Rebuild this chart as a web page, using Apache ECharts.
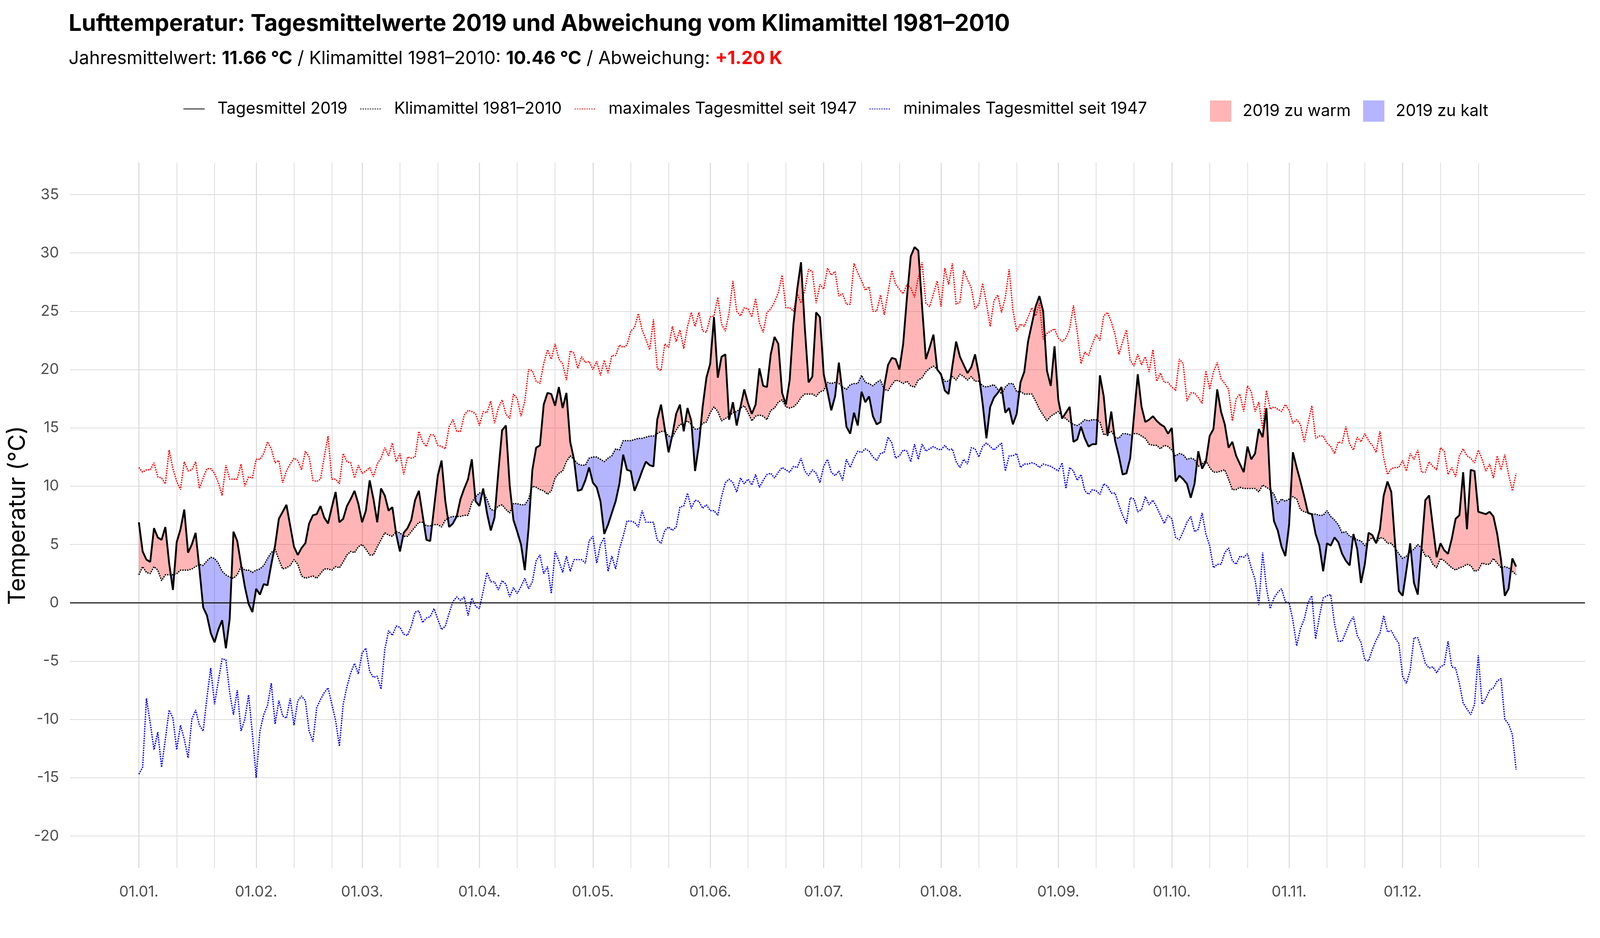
<!doctype html>
<html>
<head>
<meta charset="utf-8">
<title>Lufttemperatur 2019</title>
<script src="https://cdn.jsdelivr.net/npm/echarts@6/dist/echarts.min.js"></script>
<style>
  html, body { margin: 0; padding: 0; background: #fff; overflow: hidden; }
  #main { width: 100vw; height: 100vh; }
</style>
</head>
<body>
<div id="main"></div>
<script>
// Tagesmittel 2019 (°C), ein Wert pro Tag
var tagesmittel = [
  6.9,4.4,3.7,3.5,6.4,5.6,5.4,6.5,3.4,1.1,5.2,6.3,8.0,4.3,5.0,6.0,2.9,-0.4,-1.1,-2.6,-3.4,-2.3,-1.5,-3.9,-1.4,6.1,5.3,3.3,1.4,-0.1,-0.8,
  1.2,0.7,1.6,1.5,3.3,4.9,7.2,7.8,8.4,6.6,4.8,4.1,4.7,5.1,6.8,7.5,7.6,8.3,7.3,6.8,8.2,9.5,6.9,7.2,8.3,8.9,9.6,8.5,
  6.9,7.9,10.5,8.9,6.9,9.8,9.2,7.9,8.2,5.9,4.4,6.0,6.4,7.1,8.8,9.6,7.5,5.4,5.3,8.1,10.9,12.2,8.7,6.5,6.8,7.4,8.9,9.8,10.6,12.3,8.7,
  8.3,9.8,7.7,6.2,7.3,11.2,14.8,15.2,10.1,7.1,6.1,5.0,2.8,6.4,11.4,13.3,13.5,17.0,18.0,17.9,16.9,18.5,16.7,18.0,13.8,12.3,9.6,9.7,10.5,11.6,
  10.3,9.9,8.7,5.9,6.7,7.7,8.7,10.2,12.7,11.4,11.3,9.6,10.4,11.3,12.1,11.8,11.7,15.7,17.0,14.9,12.9,14.4,16.2,17.0,14.7,16.7,15.6,11.3,13.5,16.8,19.3,
  20.5,24.5,19.3,21.1,21.3,15.7,17.2,15.2,16.8,18.3,17.1,16.2,17.0,20.1,18.6,18.5,21.3,22.8,22.2,18.0,17.0,19.1,23.9,26.9,29.2,23.6,18.9,19.4,24.9,24.5,
  19.6,18.1,16.5,17.7,20.6,17.9,15.1,14.5,16.3,15.2,18.1,17.2,17.7,16.0,15.3,15.5,18.6,20.4,21.0,20.9,20.0,22.2,26.2,29.7,30.5,30.2,25.4,20.9,21.9,23.0,20.0,
  19.6,18.2,17.9,20.3,22.4,21.1,20.4,19.7,20.2,21.3,19.6,17.1,14.1,16.8,17.6,18.0,18.5,16.3,16.7,15.3,16.2,18.9,19.8,22.4,23.9,25.4,26.3,25.0,19.9,18.6,22.0,
  17.4,15.8,16.3,16.8,13.8,14.0,15.1,14.1,13.4,13.6,13.6,19.5,17.7,14.3,16.4,13.9,12.6,11.0,11.1,12.4,16.0,19.6,16.8,15.5,15.7,16.0,15.6,15.3,15.1,14.5,
  15.0,10.4,10.9,10.6,10.2,9.0,10.2,13.0,11.5,12.1,14.3,14.9,18.3,16.4,15.3,13.3,13.8,12.6,11.9,11.2,13.4,12.3,12.8,14.9,14.2,16.7,10.0,7.0,6.2,4.8,4.0,
  6.7,12.9,11.6,10.4,9.1,7.7,7.6,5.9,4.9,2.7,5.1,4.9,5.6,5.2,4.2,3.6,3.2,5.9,4.6,1.7,3.3,6.0,5.8,5.1,6.3,9.2,10.4,9.5,5.1,1.0,
  0.6,2.8,5.1,1.7,0.7,4.7,8.8,9.2,6.5,3.9,5.1,4.5,4.2,5.5,7.2,7.5,11.2,6.3,11.4,11.3,7.8,7.7,7.6,7.8,7.4,5.9,3.7,0.6,1.2,3.8,3.1
];

// Klimamittel 1981-2010 (°C)
var klimamittel = [
  2.4,3.1,2.6,2.5,3.1,2.8,1.9,2.4,2.4,2.4,2.5,2.8,2.8,2.8,2.9,3.1,3.3,3.2,3.6,3.9,3.8,3.4,2.7,2.4,2.2,2.1,2.4,3.1,2.8,2.8,2.6,
  2.8,2.9,3.2,3.8,4.3,4.6,3.7,2.9,3.0,3.2,3.7,3.3,2.3,2.1,2.2,2.3,2.1,2.5,2.9,2.9,2.8,3.1,3.0,3.5,4.1,4.4,4.3,4.8,
  5.0,4.6,4.1,4.1,4.8,5.4,6.0,5.8,5.7,6.1,6.0,5.7,5.7,6.1,6.5,6.9,6.9,6.6,6.6,6.7,6.7,6.5,7.1,7.3,7.4,7.4,7.4,7.5,7.5,8.6,9.1,
  9.4,9.5,8.9,8.0,7.9,8.3,8.4,8.0,7.7,8.5,8.5,8.4,8.4,8.9,10.0,9.9,9.7,9.6,9.3,9.6,10.7,11.1,11.3,12.1,12.6,12.3,11.9,11.8,11.8,12.4,
  12.5,12.5,12.3,12.1,12.4,12.6,13.2,13.1,13.9,13.9,13.9,14.0,14.1,14.1,14.2,14.3,14.3,14.5,14.7,14.7,14.3,14.2,14.8,15.3,15.3,15.6,15.3,14.9,14.9,15.4,15.5,
  16.3,16.8,16.4,15.6,15.8,16.0,16.3,16.4,16.7,16.9,16.3,15.6,16.0,16.1,16.0,15.7,16.5,16.7,17.2,17.4,16.8,16.7,16.8,17.1,17.6,17.9,17.9,17.9,17.7,18.1,
  18.2,18.9,18.8,18.9,18.8,18.5,18.3,18.7,18.8,18.8,19.5,18.9,18.8,18.6,18.9,19.1,18.3,18.2,18.7,19.1,19.0,18.8,19.0,18.6,18.5,19.1,19.3,19.8,20.1,20.3,20.0,
  19.5,19.0,19.0,19.4,19.1,19.6,19.4,19.1,19.4,19.0,19.0,18.6,18.5,18.6,18.7,18.3,17.9,18.5,18.8,18.8,18.1,18.1,17.9,17.9,17.9,17.3,16.6,16.1,15.6,16.0,16.2,
  16.4,16.0,15.8,15.5,15.3,15.2,15.4,15.7,15.6,15.7,15.7,15.5,14.4,14.5,14.7,14.2,14.1,14.5,14.5,14.4,14.5,14.5,14.3,14.1,13.6,13.5,13.5,13.2,13.5,13.4,
  13.1,12.6,12.8,12.7,12.3,12.4,12.3,11.7,11.9,12.2,11.6,11.2,11.2,11.3,11.4,10.6,9.7,9.7,9.9,9.8,9.8,9.8,9.8,9.5,10.1,9.9,9.7,9.3,8.5,8.9,8.7,
  8.9,9.1,8.9,8.0,7.8,7.7,7.6,7.6,7.5,7.5,7.9,7.4,7.1,6.7,6.0,6.1,5.7,5.6,5.4,5.3,4.9,5.3,5.6,5.1,5.6,5.5,5.1,5.1,4.7,4.2,
  3.8,4.0,4.4,4.6,5.0,4.7,4.0,4.0,3.3,3.0,3.8,3.6,3.3,3.0,2.8,3.0,3.1,3.3,3.2,2.7,2.8,3.4,3.3,3.3,3.8,3.4,3.0,3.1,3.0,2.7,2.4
];

// maximales Tagesmittel seit 1947 (°C)
var maxTagesmittel = [
  11.6,11.2,11.4,11.4,12.0,10.8,10.7,10.2,13.1,11.5,10.4,9.7,12.1,11.3,11.4,12.1,9.8,10.7,11.5,11.5,11.1,10.3,9.2,11.8,10.6,10.6,10.6,11.9,10.0,10.8,10.7,
  12.3,12.3,12.8,13.8,13.2,12.0,12.2,10.3,11.3,11.9,12.4,12.2,11.4,13.0,12.5,10.5,10.4,10.6,12.5,14.3,10.6,10.6,10.2,12.8,12.1,12.0,10.7,11.8,
  11.1,11.3,11.6,10.8,11.9,12.4,13.3,12.6,13.7,12.1,12.8,11.0,12.5,12.4,12.5,14.7,13.8,13.4,14.4,14.4,13.5,13.4,13.2,15.1,15.7,14.7,14.7,16.1,16.5,16.4,16.2,
  15.2,16.4,16.3,17.3,15.4,16.7,17.4,16.2,15.8,17.9,17.5,16.0,17.3,20.0,19.9,19.0,18.8,20.5,21.7,20.9,22.2,20.9,20.5,19.1,21.6,21.4,20.1,21.1,20.6,20.7,
  20.0,20.7,19.5,20.8,19.7,21.2,21.2,22.1,21.9,22.1,23.3,23.6,24.8,23.4,22.6,21.7,24.3,20.1,19.9,22.2,21.9,23.7,22.4,23.4,21.8,23.7,24.9,23.7,24.9,23.3,23.2,
  24.5,24.6,26.2,23.9,23.3,24.9,27.6,25.0,24.6,25.3,25.2,24.5,26.1,24.0,23.2,24.9,25.2,25.8,26.6,28.1,25.3,25.3,25.0,26.5,25.7,26.8,28.6,28.4,25.7,27.3,
  26.9,28.7,28.1,28.4,26.3,26.5,25.6,25.6,29.1,28.3,27.6,26.8,27.1,25.0,25.0,26.4,24.7,26.6,28.5,27.3,26.9,26.5,27.3,27.0,26.2,27.9,29.2,25.7,25.4,26.5,27.6,
  25.4,28.7,27.3,29.1,25.6,25.8,28.5,27.7,27.0,25.2,25.6,27.4,25.7,23.7,25.9,26.4,24.9,26.2,28.6,25.1,23.3,23.9,23.7,24.5,25.3,24.6,25.7,22.6,23.1,23.3,23.5,
  22.7,22.4,22.7,23.5,25.5,23.2,20.5,21.5,21.2,22.2,23.0,22.5,24.6,24.9,24.1,23.0,21.3,22.4,23.4,20.8,20.3,21.3,20.4,21.1,19.8,21.7,19.0,19.7,18.9,18.9,
  18.5,18.2,20.9,20.5,17.3,18.0,18.0,17.6,17.1,19.9,18.3,19.8,20.6,19.2,18.8,18.3,15.6,17.5,17.9,16.4,18.6,18.1,16.4,17.2,14.9,18.2,16.6,16.8,16.6,16.4,17.0,
  16.5,15.4,15.7,15.3,13.8,15.4,16.9,14.1,14.3,14.3,13.7,13.4,12.8,13.8,13.7,15.1,13.6,13.1,14.2,13.8,14.5,13.9,13.5,12.9,14.7,12.4,11.0,11.5,11.6,11.6,
  12.2,11.3,12.8,12.3,13.1,11.2,11.2,12.1,11.7,11.4,13.3,13.0,11.0,11.6,10.8,12.6,13.2,12.6,12.4,12.0,13.1,12.3,11.3,11.9,10.7,12.6,11.4,12.7,11.0,9.6,11.1
];

// minimales Tagesmittel seit 1947 (°C)
var minTagesmittel = [
  -14.7,-14.1,-8.2,-10.3,-12.6,-11.1,-14.1,-11.7,-9.2,-9.9,-12.6,-10.5,-11.7,-13.3,-10.0,-9.2,-10.5,-11.0,-8.1,-5.6,-8.7,-6.7,-4.8,-4.9,-7.7,-9.6,-7.5,-11.0,-10.0,-7.9,-11.2,
  -15.0,-11.0,-9.6,-8.8,-6.9,-10.4,-8.4,-9.7,-9.9,-8.2,-10.5,-8.4,-8.0,-8.4,-11.0,-11.9,-9.0,-8.3,-7.7,-7.3,-8.7,-10.1,-12.3,-8.7,-7.2,-6.0,-5.2,-6.1,
  -4.3,-3.9,-5.9,-6.4,-6.3,-7.4,-4.0,-2.4,-2.8,-2.0,-2.1,-2.7,-2.8,-2.0,-0.8,-0.7,-1.7,-1.3,-1.2,-0.5,-1.4,-2.3,-2.0,-0.9,0.1,0.5,0.2,0.5,-1.1,0.4,-0.3,
  -0.5,1.0,2.6,1.8,1.8,1.1,1.9,1.6,0.5,1.3,0.8,1.4,2.1,1.2,1.8,3.6,4.1,2.5,3.1,0.8,4.4,3.6,2.6,4.0,2.7,3.7,3.7,3.7,3.4,5.3,
  5.7,3.4,5.0,5.6,2.7,4.0,2.9,4.6,5.7,7.0,7.0,6.9,6.5,7.9,6.9,6.9,6.9,5.4,5.1,6.2,6.5,6.2,6.5,8.2,8.3,9.4,8.1,8.8,8.7,8.1,8.4,
  7.9,7.9,7.5,9.1,10.3,10.6,10.3,9.5,10.7,10.2,10.6,10.1,11.0,9.9,10.5,11.0,11.1,10.7,11.2,11.6,11.4,11.2,11.7,11.6,12.4,11.3,10.9,11.4,11.1,10.3,
  11.7,12.3,11.2,10.9,11.3,10.5,12.3,11.6,12.4,13.0,12.9,13.2,13.0,12.5,12.2,12.8,12.9,14.2,13.7,12.4,12.6,13.1,13.0,12.1,13.6,12.3,13.6,13.0,13.2,13.4,13.2,
  13.1,13.5,13.1,13.2,12.1,11.6,12.3,11.9,13.3,13.2,12.5,13.4,13.7,13.4,13.1,13.4,13.7,11.3,12.6,12.6,12.8,11.6,11.9,11.9,12.0,11.9,11.6,11.9,11.8,11.7,11.5,
  11.3,12.0,9.8,11.6,11.3,10.5,11.0,9.6,9.3,9.7,9.6,9.3,10.2,10.0,9.4,9.4,8.4,7.5,6.8,9.0,8.9,7.8,8.0,9.1,8.4,8.8,8.2,7.5,6.8,7.5,
  7.2,5.6,5.4,6.1,6.9,7.4,6.1,6.3,7.7,5.9,4.9,3.0,3.3,3.3,4.3,4.7,3.6,3.3,4.0,3.9,4.2,3.0,2.0,-0.2,4.3,1.3,-0.5,0.4,0.9,1.2,0.1,
  0.0,-1.5,-3.7,-2.2,-1.4,0.0,0.6,-3.1,-1.2,0.4,0.6,0.7,-1.8,-3.3,-3.3,-2.5,-1.7,-1.2,-2.8,-3.4,-4.9,-5.0,-4.0,-3.2,-2.6,-1.1,-2.5,-2.4,-3.0,-3.5,
  -6.3,-6.9,-5.8,-3.0,-3.0,-4.0,-5.2,-5.6,-5.5,-6.0,-5.5,-5.3,-3.3,-5.5,-5.6,-6.9,-8.6,-9.1,-9.6,-8.7,-4.5,-8.7,-8.2,-7.5,-7.3,-6.7,-6.5,-10.0,-10.4,-11.3,-14.3
];

// Monatsanfaenge (Tag im Jahr, ab 0) und Beschriftung
var monthStarts = [0, 31, 59, 90, 120, 151, 181, 212, 243, 273, 304, 334];
var monthLabels = ['01.01.', '01.02.', '01.03.', '01.04.', '01.05.', '01.06.',
                   '01.07.', '01.08.', '01.09.', '01.10.', '01.11.', '01.12.'];
var yTicks = [-20, -15, -10, -5, 0, 5, 10, 15, 20, 25, 30, 35];

// duenne Linien am 11. und 21. jedes Monats
var minorDays = [];
monthStarts.forEach(function (d) { minorDays.push(d + 10, d + 20); });

function pairs(arr) {
  return arr.map(function (v, i) { return [i, v]; });
}

// Flaechen zwischen 2019 und Klimamittel: an den Schnittpunkten teilen,
// jede warme / kalte Strecke wird ein Polygon
var pts = [];
for (var i = 0; i < tagesmittel.length; i++) {
  var t = tagesmittel[i], k = klimamittel[i];
  pts.push([i, t, k]);
  if (i + 1 < tagesmittel.length) {
    var d0 = t - k, d1 = tagesmittel[i + 1] - klimamittel[i + 1];
    if (d0 * d1 < 0) {
      var f = d0 / (d0 - d1);
      var yc = t + f * (tagesmittel[i + 1] - t);
      pts.push([i + f, yc, yc]);
    }
  }
}
var warmSegs = [], coldSegs = [];
var run = [], runSign = 0;
function closeRun() {
  if (run.length > 1 && runSign !== 0) {
    var upper = run.map(function (p) { return [p[0], p[1]]; });
    var lower = run.slice().reverse().map(function (p) { return [p[0], p[2]]; });
    (runSign > 0 ? warmSegs : coldSegs).push(upper.concat(lower));
  }
}
pts.forEach(function (p) {
  var sg = p[1] > p[2] ? 1 : (p[1] < p[2] ? -1 : 0);
  if (sg === 0) {
    run.push(p);
    closeRun();
    run = [p];
    runSign = 0;
  } else {
    runSign = sg;
    run.push(p);
  }
});
closeRun();

var FONT = 'Inter';
var WARM = 'rgba(255,0,0,0.29)';
var COLD = 'rgba(0,0,255,0.29)';

var el = document.getElementById('main');
var chart = echarts.init(el);
// Layout ist fuer 4800 x 2400 entworfen und wird auf die echte Groesse skaliert
var sx = chart.getWidth() / 4800, sy = chart.getHeight() / 2400;
var s = Math.min(sx, sy);
function X(v) { return v * sx; }
function Y(v) { return v * sy; }
function F(v) { return v * s; }

function fillSeries(name, segs, color) {
  return {
    name: name, type: 'custom', z: 1, silent: true, clip: true,
    itemStyle: { color: color },
    encode: { x: 0, y: 1 },
    data: segs.map(function (sg) { return [sg[0][0], sg[0][1]]; }),
    renderItem: function (params, api) {
      var poly = segs[params.dataIndex];
      return {
        type: 'polygon',
        shape: { points: poly.map(function (p) { return api.coord(p); }) },
        style: { fill: color }
      };
    }
  };
}

function dotted(color) {
  return { color: color, width: F(4), type: [F(4), F(3.2)] };
}

var option = {
  backgroundColor: '#ffffff',
  animation: false,
  textStyle: { fontFamily: FONT },
  title: [{
    text: 'Lufttemperatur: Tagesmittelwerte 2019 und Abweichung vom Klimamittel 1981–2010',
    left: X(206), top: Y(32), padding: 0,
    textStyle: { fontFamily: FONT, fontSize: F(69), fontWeight: 'bold', color: '#000' }
  }, {
    text: '{n|Jahresmittelwert: }{b|11.66 °C}{n| / Klimamittel 1981–2010: }{b|10.46 °C}{n| / Abweichung: }{r|+1.20 K}',
    left: X(206), top: Y(127), padding: 0,
    textStyle: {
      fontFamily: FONT, fontSize: F(54.5), fontWeight: 'normal', color: '#000',
      rich: {
        n: { fontFamily: FONT, fontSize: F(54.5), fontWeight: 'normal', color: '#000' },
        b: { fontFamily: FONT, fontSize: F(54.5), fontWeight: 'bold', color: '#000' },
        r: { fontFamily: FONT, fontSize: F(54.5), fontWeight: 'bold', color: '#ff0000' }
      }
    }
  }],
  legend: [{
    data: ['Tagesmittel 2019', 'Klimamittel 1981–2010',
           'maximales Tagesmittel seit 1947', 'minimales Tagesmittel seit 1947'],
    left: X(549), top: Y(257), padding: 0,
    itemWidth: F(64), itemHeight: F(64), itemGap: F(37),
    itemStyle: { opacity: 0 },
    selectedMode: false,
    textStyle: { fontFamily: FONT, fontSize: F(49), color: '#000', padding: [0, 0, 0, F(32)] }
  }, {
    data: [{ name: '2019 zu warm', icon: 'rect' }, { name: '2019 zu kalt', icon: 'rect' }],
    left: X(3630), top: Y(257), padding: 0,
    itemWidth: F(64), itemHeight: F(64), itemGap: F(37),
    selectedMode: false,
    textStyle: { fontFamily: FONT, fontSize: F(49), color: '#000', padding: [0, 0, 0, F(28)] }
  }],
  grid: { left: X(210), right: X(45), top: Y(416), bottom: Y(179), containLabel: false },
  xAxis: [{
    type: 'value', min: -18.2, max: 382.2,
    axisLine: { show: false },
    axisTick: { show: false, customValues: monthStarts },
    axisLabel: {
      customValues: monthStarts,
      fontFamily: FONT, fontSize: F(45), color: '#4d4d4d', margin: Y(42),
      formatter: function (v) {
        var idx = monthStarts.indexOf(v);
        return idx >= 0 ? monthLabels[idx] : '';
      }
    },
    splitLine: { show: true, lineStyle: { color: '#d9d9d9', width: F(3) } }
  }, {
    type: 'value', min: -18.2, max: 382.2, position: 'bottom',
    axisLine: { show: false },
    axisTick: { show: false, customValues: minorDays },
    axisLabel: { show: false, customValues: minorDays },
    splitLine: { show: true, lineStyle: { color: '#e0e0e0', width: F(2.5) } }
  }],
  yAxis: {
    type: 'value', min: -22.75, max: 37.75,
    name: 'Temperatur (°C)', nameLocation: 'middle', nameGap: X(113.5),
    nameTextStyle: { fontFamily: FONT, fontSize: Y(60), color: '#000' },
    axisLine: { show: false },
    axisTick: { show: false, customValues: yTicks },
    axisLabel: { customValues: yTicks, fontFamily: FONT, fontSize: F(45), color: '#4d4d4d', margin: X(33) },
    splitLine: { show: true, lineStyle: { color: '#cfcfcf', width: F(2) } }
  },
  series: [
    fillSeries('2019 zu warm', warmSegs, WARM),
    fillSeries('2019 zu kalt', coldSegs, COLD),
    {
      name: 'Klimamittel 1981–2010', type: 'line', data: pairs(klimamittel),
      symbol: 'none', z: 3, color: '#000',
      lineStyle: dotted('#000'),
      emphasis: { disabled: true },
      markLine: {
        silent: true, symbol: 'none', animation: false,
        label: { show: false },
        lineStyle: { color: '#000', width: F(3), type: 'solid' },
        data: [{ yAxis: 0 }]
      }
    }, {
      name: 'maximales Tagesmittel seit 1947', type: 'line', data: pairs(maxTagesmittel),
      symbol: 'none', z: 3, color: '#ff0000',
      lineStyle: dotted('#ff0000'),
      emphasis: { disabled: true }
    }, {
      name: 'minimales Tagesmittel seit 1947', type: 'line', data: pairs(minTagesmittel),
      symbol: 'none', z: 3, color: '#0000ff',
      lineStyle: dotted('#0000ff'),
      emphasis: { disabled: true }
    }, {
      name: 'Tagesmittel 2019', type: 'line', data: pairs(tagesmittel),
      symbol: 'none', z: 5, color: '#000',
      lineStyle: { color: '#000', width: F(5.5) },
      emphasis: { disabled: true }
    }
  ]
};

chart.setOption(option);
</script>
</body>
</html>
